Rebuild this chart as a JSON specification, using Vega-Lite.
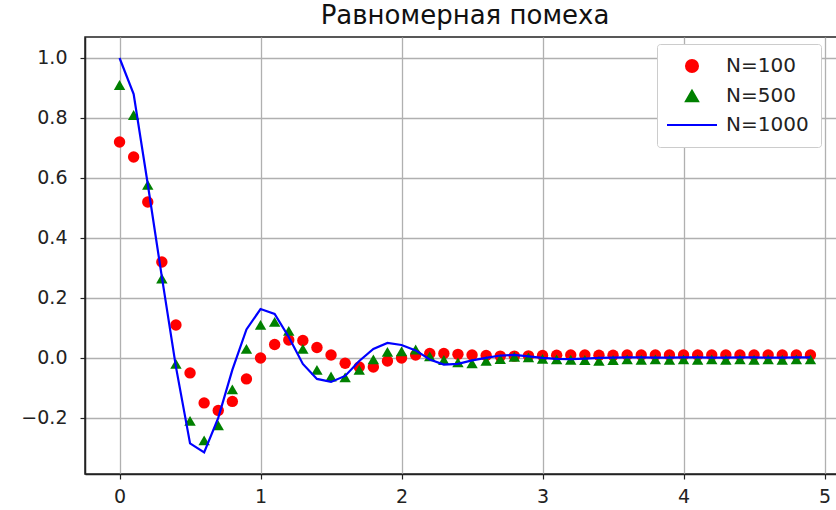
{
  "$schema": "https://vega.github.io/schema/vega-lite/v6.json",
  "width": 760,
  "height": 437,
  "autosize": {"type": "none"},
  "padding": {"left": 85, "top": 37, "right": 0, "bottom": 36},
  "background": "white",
  "title": {"text": "Равномерная помеха", "fontSize": 26, "font": "DejaVu Sans", "fontWeight": "normal", "color": "#111", "offset": 8},
  "config": {
    "font": "DejaVu Sans",
    "view": {"stroke": "#222", "strokeWidth": 1.5},
    "axis": {"labelFont": "DejaVu Sans", "labelFontSize": 19, "labelColor": "#222", "gridColor": "#b0b0b0", "gridWidth": 1.3, "gridOpacity": 1, "domainColor": "#222", "domainWidth": 1.5, "tickColor": "#222", "tickSize": 5, "tickWidth": 1.2, "title": null}
  },
  "data": {"values": [
    {"x":0.0,"y":0.72,"s":"N=100"},{"x":0.1,"y":0.67,"s":"N=100"},{"x":0.2,"y":0.52,"s":"N=100"},{"x":0.3,"y":0.32,"s":"N=100"},{"x":0.4,"y":0.11,"s":"N=100"},
    {"x":0.5,"y":-0.05,"s":"N=100"},{"x":0.6,"y":-0.15,"s":"N=100"},{"x":0.7,"y":-0.175,"s":"N=100"},{"x":0.8,"y":-0.145,"s":"N=100"},{"x":0.9,"y":-0.07,"s":"N=100"},
    {"x":1.0,"y":0.0,"s":"N=100"},{"x":1.1,"y":0.045,"s":"N=100"},{"x":1.2,"y":0.06,"s":"N=100"},{"x":1.3,"y":0.058,"s":"N=100"},{"x":1.4,"y":0.035,"s":"N=100"},
    {"x":1.5,"y":0.01,"s":"N=100"},{"x":1.6,"y":-0.018,"s":"N=100"},{"x":1.7,"y":-0.03,"s":"N=100"},{"x":1.8,"y":-0.03,"s":"N=100"},{"x":1.9,"y":-0.01,"s":"N=100"},
    {"x":2.0,"y":0.0,"s":"N=100"},{"x":2.1,"y":0.01,"s":"N=100"},{"x":2.2,"y":0.015,"s":"N=100"},{"x":2.3,"y":0.015,"s":"N=100"},{"x":2.4,"y":0.012,"s":"N=100"},
    {"x":2.5,"y":0.01,"s":"N=100"},{"x":2.6,"y":0.008,"s":"N=100"},{"x":2.7,"y":0.006,"s":"N=100"},{"x":2.8,"y":0.006,"s":"N=100"},{"x":2.9,"y":0.007,"s":"N=100"},
    {"x":3.0,"y":0.008,"s":"N=100"},{"x":3.1,"y":0.009,"s":"N=100"},{"x":3.2,"y":0.01,"s":"N=100"},{"x":3.3,"y":0.01,"s":"N=100"},{"x":3.4,"y":0.009,"s":"N=100"},
    {"x":3.5,"y":0.009,"s":"N=100"},{"x":3.6,"y":0.01,"s":"N=100"},{"x":3.7,"y":0.01,"s":"N=100"},{"x":3.8,"y":0.01,"s":"N=100"},{"x":3.9,"y":0.01,"s":"N=100"},
    {"x":4.0,"y":0.01,"s":"N=100"},{"x":4.1,"y":0.01,"s":"N=100"},{"x":4.2,"y":0.01,"s":"N=100"},{"x":4.3,"y":0.01,"s":"N=100"},{"x":4.4,"y":0.01,"s":"N=100"},
    {"x":4.5,"y":0.01,"s":"N=100"},{"x":4.6,"y":0.01,"s":"N=100"},{"x":4.7,"y":0.01,"s":"N=100"},{"x":4.8,"y":0.01,"s":"N=100"},{"x":4.9,"y":0.01,"s":"N=100"},

    {"x":0.0,"y":0.91,"s":"N=500"},{"x":0.1,"y":0.81,"s":"N=500"},{"x":0.2,"y":0.577,"s":"N=500"},{"x":0.3,"y":0.265,"s":"N=500"},{"x":0.4,"y":-0.02,"s":"N=500"},
    {"x":0.5,"y":-0.21,"s":"N=500"},{"x":0.6,"y":-0.275,"s":"N=500"},{"x":0.7,"y":-0.225,"s":"N=500"},{"x":0.8,"y":-0.105,"s":"N=500"},{"x":0.9,"y":0.03,"s":"N=500"},
    {"x":1.0,"y":0.11,"s":"N=500"},{"x":1.1,"y":0.12,"s":"N=500"},{"x":1.2,"y":0.09,"s":"N=500"},{"x":1.3,"y":0.03,"s":"N=500"},{"x":1.4,"y":-0.04,"s":"N=500"},
    {"x":1.5,"y":-0.062,"s":"N=500"},{"x":1.6,"y":-0.065,"s":"N=500"},{"x":1.7,"y":-0.04,"s":"N=500"},{"x":1.8,"y":-0.005,"s":"N=500"},{"x":1.9,"y":0.02,"s":"N=500"},
    {"x":2.0,"y":0.022,"s":"N=500"},{"x":2.1,"y":0.028,"s":"N=500"},{"x":2.2,"y":0.005,"s":"N=500"},{"x":2.3,"y":-0.007,"s":"N=500"},{"x":2.4,"y":-0.015,"s":"N=500"},
    {"x":2.5,"y":-0.018,"s":"N=500"},{"x":2.6,"y":-0.01,"s":"N=500"},{"x":2.7,"y":-0.004,"s":"N=500"},{"x":2.8,"y":0.004,"s":"N=500"},{"x":2.9,"y":0.002,"s":"N=500"},
    {"x":3.0,"y":-0.003,"s":"N=500"},{"x":3.1,"y":-0.005,"s":"N=500"},{"x":3.2,"y":-0.006,"s":"N=500"},{"x":3.3,"y":-0.007,"s":"N=500"},{"x":3.4,"y":-0.01,"s":"N=500"},
    {"x":3.5,"y":-0.007,"s":"N=500"},{"x":3.6,"y":-0.005,"s":"N=500"},{"x":3.7,"y":-0.006,"s":"N=500"},{"x":3.8,"y":-0.005,"s":"N=500"},{"x":3.9,"y":-0.006,"s":"N=500"},
    {"x":4.0,"y":-0.005,"s":"N=500"},{"x":4.1,"y":-0.006,"s":"N=500"},{"x":4.2,"y":-0.005,"s":"N=500"},{"x":4.3,"y":-0.006,"s":"N=500"},{"x":4.4,"y":-0.005,"s":"N=500"},
    {"x":4.5,"y":-0.006,"s":"N=500"},{"x":4.6,"y":-0.005,"s":"N=500"},{"x":4.7,"y":-0.006,"s":"N=500"},{"x":4.8,"y":-0.005,"s":"N=500"},{"x":4.9,"y":-0.005,"s":"N=500"},

    {"x":0.0,"y":1.0,"s":"N=1000"},{"x":0.1,"y":0.88,"s":"N=1000"},{"x":0.2,"y":0.58,"s":"N=1000"},{"x":0.3,"y":0.27,"s":"N=1000"},{"x":0.4,"y":-0.03,"s":"N=1000"},
    {"x":0.5,"y":-0.285,"s":"N=1000"},{"x":0.6,"y":-0.315,"s":"N=1000"},{"x":0.7,"y":-0.2,"s":"N=1000"},{"x":0.8,"y":-0.04,"s":"N=1000"},{"x":0.9,"y":0.095,"s":"N=1000"},
    {"x":1.0,"y":0.163,"s":"N=1000"},{"x":1.1,"y":0.147,"s":"N=1000"},{"x":1.2,"y":0.07,"s":"N=1000"},{"x":1.3,"y":-0.02,"s":"N=1000"},{"x":1.4,"y":-0.07,"s":"N=1000"},
    {"x":1.5,"y":-0.08,"s":"N=1000"},{"x":1.6,"y":-0.06,"s":"N=1000"},{"x":1.7,"y":-0.01,"s":"N=1000"},{"x":1.8,"y":0.03,"s":"N=1000"},{"x":1.9,"y":0.05,"s":"N=1000"},
    {"x":2.0,"y":0.043,"s":"N=1000"},{"x":2.1,"y":0.025,"s":"N=1000"},{"x":2.2,"y":-0.005,"s":"N=1000"},{"x":2.3,"y":-0.022,"s":"N=1000"},{"x":2.4,"y":-0.02,"s":"N=1000"},
    {"x":2.5,"y":-0.008,"s":"N=1000"},{"x":2.6,"y":0.0,"s":"N=1000"},{"x":2.7,"y":0.008,"s":"N=1000"},{"x":2.8,"y":0.01,"s":"N=1000"},{"x":2.9,"y":0.005,"s":"N=1000"},
    {"x":3.0,"y":0.0,"s":"N=1000"},{"x":3.1,"y":-0.003,"s":"N=1000"},{"x":3.2,"y":-0.004,"s":"N=1000"},{"x":3.3,"y":-0.002,"s":"N=1000"},{"x":3.4,"y":0.0,"s":"N=1000"},
    {"x":3.5,"y":0.001,"s":"N=1000"},{"x":3.6,"y":0.002,"s":"N=1000"},{"x":3.7,"y":0.002,"s":"N=1000"},{"x":3.8,"y":0.001,"s":"N=1000"},{"x":3.9,"y":0.001,"s":"N=1000"},
    {"x":4.0,"y":0.002,"s":"N=1000"},{"x":4.1,"y":0.002,"s":"N=1000"},{"x":4.2,"y":0.001,"s":"N=1000"},{"x":4.3,"y":0.001,"s":"N=1000"},{"x":4.4,"y":0.002,"s":"N=1000"},
    {"x":4.5,"y":0.002,"s":"N=1000"},{"x":4.6,"y":0.001,"s":"N=1000"},{"x":4.7,"y":0.001,"s":"N=1000"},{"x":4.8,"y":0.002,"s":"N=1000"},{"x":4.9,"y":0.002,"s":"N=1000"}
  ]},
  "encoding": {
    "x": {"field": "x", "type": "quantitative", "scale": {"domain": [-0.245, 5.145], "nice": false, "zero": false}, "axis": {"values": [0, 1, 2, 3, 4, 5], "format": "d", "labelPadding": 8}},
    "y": {"field": "y", "type": "quantitative", "scale": {"domain": [-0.387, 1.07], "nice": false, "zero": false}, "axis": {"values": [-0.2, 0, 0.2, 0.4, 0.6, 0.8, 1.0], "format": ".1f", "labelPadding": 13}},
    "color": {"field": "s", "type": "nominal", "scale": {"domain": ["N=100", "N=500", "N=1000"], "range": ["#ff0000", "#008000", "#0000ff"]},
      "legend": {"title": null, "orient": "none", "legendX": 572, "legendY": 7, "padding": 12, "fillColor": "white", "strokeColor": "#cccccc", "cornerRadius": 3,
        "labelFontSize": 20, "labelFont": "DejaVu Sans", "labelColor": "#222", "labelOffset": 24, "symbolOffset": 13, "rowPadding": 9, "symbolStrokeWidth": 2.2,
        "encode": {"symbols": {"update": {"size": {"signal": "datum.value === 'N=1000' ? 2500 : 140"}, "stroke": {"scale": "color", "field": "value"}}}}}}
  },
  "layer": [
    {"transform": [{"filter": "datum.s !== 'N=1000'"}],
     "mark": {"type": "point", "filled": true, "opacity": 1, "size": 130},
     "encoding": {"shape": {"field": "s", "type": "nominal", "scale": {"domain": ["N=100", "N=500", "N=1000"], "range": ["circle", "triangle-up", "stroke"]}, "legend": {"title": null}}}},
    {"transform": [{"filter": "datum.s === 'N=1000'"}],
     "mark": {"type": "line", "strokeWidth": 2.2},
     "encoding": {}}
  ]
}
